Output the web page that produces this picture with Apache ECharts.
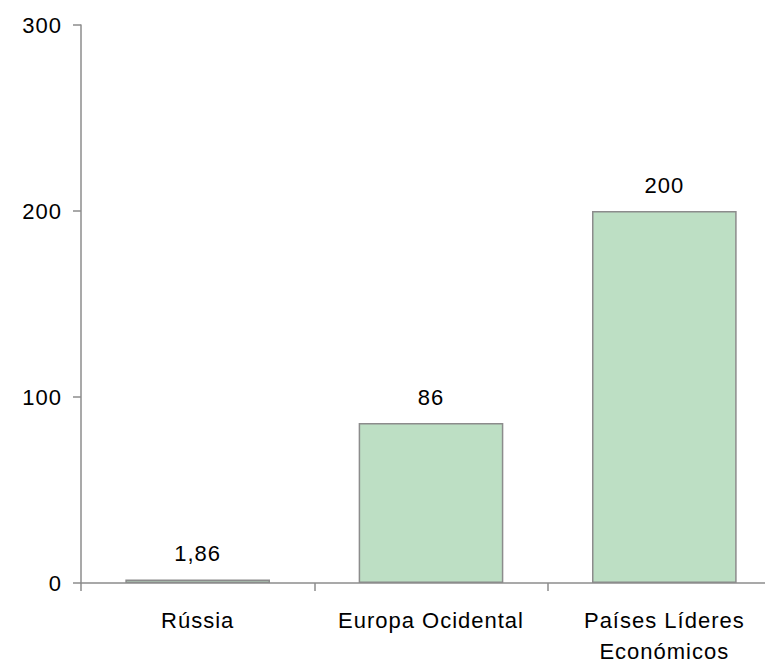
<!DOCTYPE html>
<html><head><meta charset="utf-8">
<script src="https://cdn.jsdelivr.net/npm/echarts@6/dist/echarts.min.js"></script>
<style>html,body{margin:0;padding:0;background:#fff}#c{width:765px;height:664px;letter-spacing:1px}#c svg text,#c svg tspan{letter-spacing:1px !important}</style>
</head><body><div id="c"></div>
<script>
const categories = ['Rússia', 'Europa Ocidental', 'Países Líderes\nEconómicos'];
const values = [1.86, 86, 200];
const valueLabels = ['1,86', '86', '200'];

const chart = echarts.init(document.getElementById('c'), null, {renderer: 'svg'});
const font = 'Arial';
const fs = 22;
chart.setOption({
  animation: false,
  textStyle: {fontFamily: font, fontSize: fs, color: '#000'},
  grid: {left: 81, width: 700, top: 25, height: 558, containLabel: false, outerBoundsMode: 'none'},
  xAxis: {
    type: 'category', data: categories,
    axisLine: {lineStyle: {color: '#8c8c8c', width: 1.5}},
    axisTick: {show: true, alignWithLabel: false, length: 8, lineStyle: {color: '#8c8c8c', width: 1.5}},
    axisLabel: {color: '#000', fontFamily: font, fontSize: fs, margin: 22, lineHeight: 31, interval: 0}
  },
  yAxis: {
    type: 'value', min: 0, max: 300, interval: 100,
    splitLine: {show: false},
    axisLine: {show: true, lineStyle: {color: '#8c8c8c', width: 1.5}},
    axisTick: {show: true, length: 8, lineStyle: {color: '#8c8c8c', width: 1.5}},
    axisLabel: {color: '#000', fontFamily: font, fontSize: fs, margin: 19}
  },
  series: [{
    type: 'bar', data: values, barWidth: '62%',
    itemStyle: {color: '#bddfc4', borderColor: '#8c8c8c', borderWidth: 1.5},
    label: {show: true, position: 'top', distance: 15, color: '#000', fontFamily: font, fontSize: fs,
      formatter: p => valueLabels[p.dataIndex]}
  }]
});
</script></body></html>
